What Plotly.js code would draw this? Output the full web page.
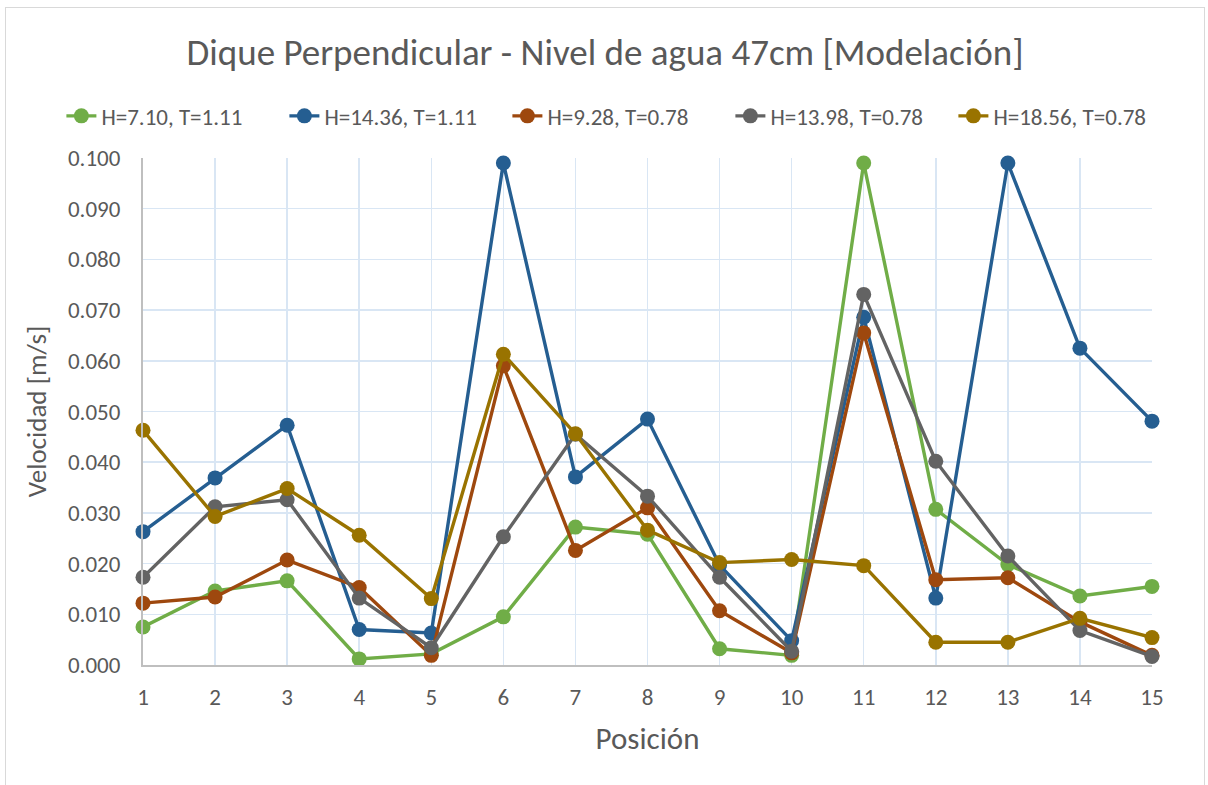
<!DOCTYPE html>
<html>
<head>
<meta charset="utf-8">
<script src="https://cdn.plot.ly/plotly-3.0.1.min.js"></script>
<style>
  html, body { margin: 0; padding: 0; background: #ffffff; overflow: hidden; }
  #frame { position: absolute; left: 5px; top: 7px; width: 1200px; height: 790px; border: 1px solid #d9d9d9; box-sizing: border-box; }
  #chart { position: absolute; left: 0; top: 0; width: 1198px; height: 788px; }
</style>
</head>
<body>
<div id="frame"><div id="chart"></div></div>
<script>
const positions = [1, 2, 3, 4, 5, 6, 7, 8, 9, 10, 11, 12, 13, 14, 15];
const seriesNames = ["H=7.10, T=1.11", "H=14.36, T=1.11", "H=9.28, T=0.78", "H=13.98, T=0.78", "H=18.56, T=0.78"];
const h710 =  [0.0075, 0.0146, 0.0166, 0.0012, 0.0022, 0.0095, 0.0272, 0.0258, 0.0032, 0.0019, 0.0990, 0.0307, 0.0198, 0.0136, 0.0155];
const h1436 = [0.0263, 0.0369, 0.0473, 0.0070, 0.0063, 0.0990, 0.0371, 0.0485, 0.0197, 0.0048, 0.0686, 0.0132, 0.0990, 0.0625, 0.0481];
const h928 =  [0.0122, 0.0134, 0.0207, 0.0153, 0.0019, 0.0590, 0.0226, 0.0310, 0.0107, 0.0024, 0.0655, 0.0168, 0.0172, 0.0085, 0.0019];
const h1398 = [0.0173, 0.0312, 0.0326, 0.0132, 0.0034, 0.0253, 0.0455, 0.0333, 0.0173, 0.0027, 0.0731, 0.0402, 0.0215, 0.0068, 0.0017];
const h1856 = [0.0463, 0.0293, 0.0348, 0.0256, 0.0131, 0.0613, 0.0456, 0.0266, 0.0202, 0.0208, 0.0196, 0.0045, 0.0045, 0.0092, 0.0054];
const colors = ["#70ad47", "#255e91", "#9e480e", "#636363", "#997300"];
const allSeries = [h710, h1436, h928, h1398, h1856];

const FONT = "Carlito, Lato, 'Open Sans', sans-serif";
const traces = allSeries.map((vals, i) => ({
  x: positions, y: vals, name: seriesNames[i], type: "scatter", mode: "lines+markers",
  line: { color: colors[i], width: 3.4 },
  marker: { color: colors[i], size: 15 },
  cliponaxis: false
}));

const layout = {
  width: 1198, height: 788,
  paper_bgcolor: "#ffffff", plot_bgcolor: "#ffffff",
  margin: { l: 20, r: 20, t: 150, b: 131 },
  font: { family: FONT, color: "#595959" },
  title: { text: "Dique Perpendicular - Nivel de agua 47cm [Modelación]", font: { family: FONT, size: 37, color: "#595959" }, x: 0.5, xanchor: "center", y: 0.944, yanchor: "middle" },
  showlegend: true,
  legend: { orientation: "h", x: 0.512, xanchor: "center", y: 1.083, yanchor: "middle", font: { family: FONT, size: 23, color: "#595959" }, itemwidth: 30, tracegroupgap: 0, entrywidth: 178, entrywidthmode: "pixels" },
  xaxis: {
    domain: [0.10104, 0.97237],
    range: [1, 15], tickmode: "array", tickvals: positions, ticktext: positions.map(String),
    showgrid: true, gridcolor: "#d9e6f4", gridwidth: 1.5, zeroline: false,
    showline: true, linecolor: "#bfbfbf", linewidth: 2, ticks: "outside", ticklen: 10, tickcolor: "rgba(0,0,0,0)",
    tickfont: { family: FONT, size: 23, color: "#595959" },
    title: { text: "Posición", font: { family: FONT, size: 31, color: "#595959" }, standoff: 18 },
    fixedrange: true
  },
  yaxis: {
    range: [0, 0.1], dtick: 0.01, tick0: 0, tickformat: ".3f",
    showgrid: true, gridcolor: "#d9e6f4", gridwidth: 1.5, zeroline: false,
    showline: true, linecolor: "#bfbfbf", linewidth: 2, ticks: "outside", ticklen: 16, tickcolor: "rgba(0,0,0,0)",
    tickfont: { family: FONT, size: 23, color: "#595959" },
    title: { text: "Velocidad [m/s]", font: { family: FONT, size: 27, color: "#595959" }, standoff: 14 },
    fixedrange: true
  }
};

Plotly.newPlot("chart", traces, layout, { displayModeBar: false, staticPlot: true });
</script>
</body>
</html>
